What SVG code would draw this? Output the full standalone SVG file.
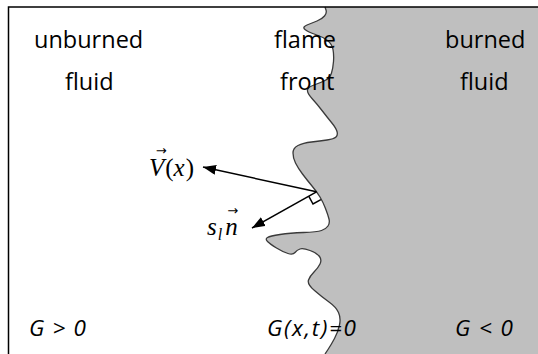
<svg xmlns="http://www.w3.org/2000/svg" width="538" height="354" viewBox="0 0 538 354">
<style>
.lbl{font-family:"Open Sans","Liberation Sans",sans-serif;font-size:23.5px;fill:#000}
.g{font-family:"Open Sans","Liberation Sans",sans-serif;font-size:22.5px;font-style:italic;fill:#000}
.math{font-family:"Liberation Serif","DejaVu Serif",serif;font-size:25px;fill:#000}
.vec{font-family:"DejaVu Sans","Liberation Sans",sans-serif;font-size:13px;font-style:normal}
.it{font-style:italic}
.conn{stroke:#000;stroke-width:1.5;fill:none}
.front{stroke:#3a3a3a;stroke-width:1.3;fill:none}
</style>
<defs>
<marker id="ah" markerUnits="userSpaceOnUse" markerWidth="14" markerHeight="11" refX="13" refY="5" orient="auto">
<path d="M0,0 L13,5 L0,10 z" fill="#000"/>
</marker>
</defs>
<rect x="0" y="0" width="538" height="354" fill="#fff"/>
<g id="burned-region">
<path fill="#bfbfbf" d="M325,7 L326,10 Q327,13 324.5,16 Q322,19 317,21 Q312,23 307,25 Q302,27 305,29.5 Q308,32 315.5,34.5 Q323,37 327.5,40.5 Q332,44 333,49.5 Q334,55 333.5,61.5 Q333,68 331.5,73 Q330,78 325,80.5 Q320,83 314,85 Q308,87 307.5,90 Q307,93 312,98.5 Q317,104 322,110.5 Q327,117 331.5,122.5 Q336,128 337,131.5 Q338,135 336,137 Q334,139 327,140 Q320,141 311.5,142 Q303,143 298,145.5 Q293,148 293,153 Q293,158 295.5,163 Q298,168 302.5,174 Q307,180 312,186 Q317,192 320,197 Q323,202 325.5,208.5 Q328,215 329,219 Q330,223 328,226 Q326,229 321.5,230.5 Q317,232 303.5,232.5 Q290,233 280,234.5 Q270,236 267.5,237.5 Q265,239 267.5,241.5 Q270,244 276.5,248 Q283,252 288,253.5 Q293,255 295,252.5 Q297,250 300,249 Q303,248 310,250.5 Q317,253 319.5,256.5 Q322,260 320,264 Q318,268 314,272 Q310,276 308.5,280 Q307,284 314.5,290.5 Q322,297 329,302 Q336,307 338.5,312.5 Q341,318 339.5,325 Q338,332 334.5,338.5 Q331,345 328,349.5 L325,354 L538,354 L538,7 Z"/>
</g>
<g id="flame-front">
<path class="front" d="M325,7 L326,10 Q327,13 324.5,16 Q322,19 317,21 Q312,23 307,25 Q302,27 305,29.5 Q308,32 315.5,34.5 Q323,37 327.5,40.5 Q332,44 333,49.5 Q334,55 333.5,61.5 Q333,68 331.5,73 Q330,78 325,80.5 Q320,83 314,85 Q308,87 307.5,90 Q307,93 312,98.5 Q317,104 322,110.5 Q327,117 331.5,122.5 Q336,128 337,131.5 Q338,135 336,137 Q334,139 327,140 Q320,141 311.5,142 Q303,143 298,145.5 Q293,148 293,153 Q293,158 295.5,163 Q298,168 302.5,174 Q307,180 312,186 Q317,192 320,197 Q323,202 325.5,208.5 Q328,215 329,219 Q330,223 328,226 Q326,229 321.5,230.5 Q317,232 303.5,232.5 Q290,233 280,234.5 Q270,236 267.5,237.5 Q265,239 267.5,241.5 Q270,244 276.5,248 Q283,252 288,253.5 Q293,255 295,252.5 Q297,250 300,249 Q303,248 310,250.5 Q317,253 319.5,256.5 Q322,260 320,264 Q318,268 314,272 Q310,276 308.5,280 Q307,284 314.5,290.5 Q322,297 329,302 Q336,307 338.5,312.5 Q341,318 339.5,325 Q338,332 334.5,338.5 Q331,345 328,349.5 L325,354"/>
</g>
<g id="frame">
<path d="M8.5,354 L8.5,7 L538,7" fill="none" stroke="#000" stroke-width="1.5"/>
</g>
<g id="connectors">
<line class="conn" x1="316.5" y1="191.8" x2="203" y2="167" marker-end="url(#ah)"/>
<line class="conn" x1="316.5" y1="191.8" x2="252" y2="228" marker-end="url(#ah)"/>
<path class="conn" stroke-width="1.2" d="M308.7,196.2 L313,204 L320.9,199.6"/>
</g>
<g id="unburned-label">
<text class="lbl" x="34" y="48">unburned</text>
<text class="lbl" x="65" y="90">fluid</text>
</g>
<g id="flame-label">
<text class="lbl" x="274" y="48">flame</text>
<text class="lbl" x="280" y="90">front</text>
</g>
<g id="burned-label">
<text class="lbl" x="445" y="48">burned</text>
<text class="lbl" x="460" y="90">fluid</text>
</g>
<g id="velocity-label">
<text class="math" x="149" y="176"><tspan class="it">V</tspan><tspan class="vec" dx="-8.5" dy="-21">→</tspan><tspan dx="-1.5" dy="21">(</tspan><tspan class="it">x</tspan><tspan dx="1">)</tspan></text>
</g>
<g id="normal-label">
<text class="math" x="207" y="235" font-size="27"><tspan class="it">s</tspan><tspan class="it" font-size="16" dx="1" dy="5">l</tspan><tspan class="it" dx="3" dy="-5">n</tspan><tspan class="vec" dx="-10.5" dy="-20">→</tspan></text>
</g>
<g id="g-labels">
<text class="g" x="29" y="336" textLength="57">G &gt; 0</text>
<text class="g" x="267" y="336" textLength="89">G(x,t)=0</text>
<text class="g" x="455" y="336" textLength="58">G &lt; 0</text>
</g>
</svg>
